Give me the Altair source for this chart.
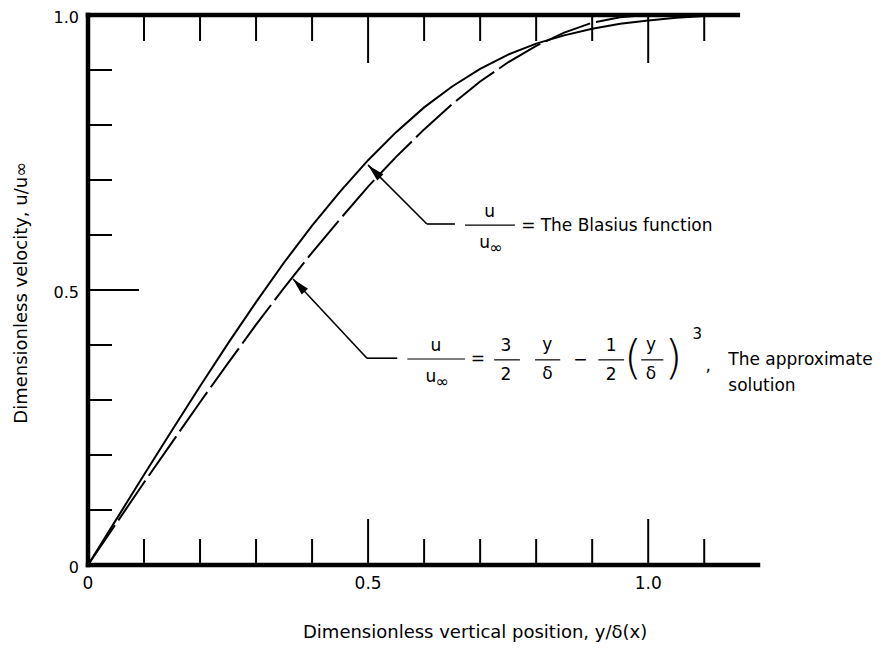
import math
import altair as alt
import pandas as pd

# ---------------- data ----------------
blasius_x = [0, 0.05, 0.1, 0.15, 0.2, 0.25, 0.3, 0.35, 0.4, 0.45, 0.5, 0.55,
             0.6, 0.65, 0.7, 0.75, 0.8, 0.85, 0.9, 0.95, 1.0, 1.05, 1.1, 1.16]
blasius_u = [0, 0.082, 0.164, 0.245, 0.325, 0.403, 0.478, 0.550, 0.617, 0.679,
             0.736, 0.787, 0.832, 0.870, 0.902, 0.928, 0.948, 0.963, 0.975,
             0.984, 0.990, 0.995, 0.998, 1.0]

approx_x = [0, 0.05, 0.1, 0.15, 0.2, 0.25, 0.3, 0.35, 0.4, 0.45, 0.5, 0.55,
            0.6, 0.65, 0.7, 0.75, 0.8, 0.85, 0.9, 0.95, 1.0]
approx_u = [0, 0.075, 0.150, 0.223, 0.296, 0.367, 0.437, 0.504, 0.568, 0.629,
            0.688, 0.742, 0.792, 0.838, 0.879, 0.914, 0.944, 0.968, 0.986,
            0.996, 1.0]

x_tick_vals = [0.1, 0.2, 0.3, 0.4, 0.5, 0.6, 0.7, 0.8, 0.9, 1.0, 1.1]
x_long_ticks = [0.5, 1.0]
y_tick_vals = [0.1, 0.2, 0.3, 0.4, 0.5, 0.6, 0.7, 0.8, 0.9]
y_long_ticks = [0.5]

x_label_vals = [0, 0.5, 1.0]
x_label_text = ["0", "0.5", "1.0"]
y_label_vals = [0, 0.5, 1.0]
y_label_text = ["0", "0.5", "1.0"]

x_title = "Dimensionless vertical position, y/\u03b4(x)"
y_title = "Dimensionless velocity, u/u\u221e"

# ---------------- layout ----------------
X_MAX = 1.196
X_TOP_END = 1.16
W, H = 670, 550
PXX = W / X_MAX   # pixels per x unit
PXY = H / 1.0     # pixels per y unit
FONT = "DejaVu Sans"

xs = alt.Scale(domain=[0, X_MAX], nice=False, zero=False)
ys = alt.Scale(domain=[0, 1], nice=False, zero=False)


def seg_layer(df, width, cap="butt"):
    return alt.Chart(df).mark_rule(color="black", strokeWidth=width, strokeCap=cap).encode(
        x=alt.X("x:Q", scale=xs, axis=None), x2="x2:Q",
        y=alt.Y("y:Q", scale=ys, axis=None), y2="y2:Q")


# frame (left, bottom, top)
frame = pd.DataFrame({"x": [0, 0, 0], "y": [0, 0, 1],
                      "x2": [0, X_MAX, X_TOP_END], "y2": [1, 0, 1]})

# ticks
rows = []
for v in x_tick_vals:
    lb = (46 if v in x_long_ticks else 26) / PXY
    lt = (48 if v in x_long_ticks else 26) / PXY
    rows.append({"x": v, "x2": v, "y": 0, "y2": lb})
    rows.append({"x": v, "x2": v, "y": 1, "y2": 1 - lt})
for v in y_tick_vals:
    ll = (51 if v in y_long_ticks else 24) / PXX
    rows.append({"x": 0, "x2": ll, "y": v, "y2": v})
ticks = pd.DataFrame(rows)

# curves
bl = pd.DataFrame({"x": blasius_x, "u": blasius_u})
ap = pd.DataFrame({"x": approx_x, "u": approx_u})
bl_line = alt.Chart(bl).mark_line(color="black", strokeWidth=2).encode(
    x=alt.X("x:Q", scale=xs, axis=None), y=alt.Y("u:Q", scale=ys, axis=None))
ap_line = alt.Chart(ap).mark_line(color="black", strokeWidth=2, strokeDash=[48, 6]).encode(
    x=alt.X("x:Q", scale=xs, axis=None), y=alt.Y("u:Q", scale=ys, axis=None))

# leader arrows: tip, elbow, end
arrows = [((0.500, 0.727), (0.605, 0.620), (0.655, 0.620)),
          ((0.366, 0.520), (0.498, 0.376), (0.552, 0.376))]
arows, heads = [], []
for tip, elb, end in arrows:
    arows.append({"x": tip[0], "y": tip[1], "x2": elb[0], "y2": elb[1]})
    arows.append({"x": elb[0], "y": elb[1], "x2": end[0], "y2": end[1]})
    dxp = (tip[0] - elb[0]) * PXX
    dyp = -(tip[1] - elb[1]) * PXY
    ang = math.degrees(math.atan2(dxp, -dyp)) % 360
    heads.append({"x": tip[0], "y": tip[1], "ang": ang})
arrow_lines = pd.DataFrame(arows)
head_df = pd.DataFrame(heads)
head_layer = alt.Chart(head_df).mark_point(
    shape="M0,0 L0.5,2 L-0.5,2 Z", size=300, filled=True, color="black", opacity=1
).encode(x=alt.X("x:Q", scale=xs, axis=None), y=alt.Y("y:Q", scale=ys, axis=None),
         angle=alt.Angle("ang:Q", scale=None))

# fraction bars
bars = pd.DataFrame({
    "x":  [0.673, 0.570, 0.725, 0.798, 0.911, 0.9875],
    "x2": [0.762, 0.673, 0.771, 0.843, 0.957, 1.027],
    "y":  [0.618, 0.3745, 0.373, 0.373, 0.373, 0.373]})
bars["y2"] = bars["y"]

# annotation texts
ann = pd.DataFrame([
    ("u", 0.717, 0.642, 17, "center"),
    ("u", 0.708, 0.585, 17, "center"),
    ("\u221e", 0.728, 0.576, 16, "center"),
    ("=", 0.786, 0.616, 17, "center"),
    ("The Blasius function", 0.808, 0.616, 17, "left"),
    ("u", 0.621, 0.398, 17, "center"),
    ("u", 0.612, 0.342, 17, "center"),
    ("\u221e", 0.632, 0.333, 16, "center"),
    ("=", 0.696, 0.375, 17, "center"),
    ("3", 0.746, 0.398, 17, "center"),
    ("2", 0.746, 0.345, 17, "center"),
    ("y", 0.820, 0.400, 17, "center"),
    ("\u03b4", 0.820, 0.347, 17, "center"),
    ("\u2212", 0.879, 0.373, 17, "center"),
    ("1", 0.934, 0.398, 17, "center"),
    ("2", 0.934, 0.345, 17, "center"),
    ("y", 1.005, 0.400, 17, "center"),
    ("\u03b4", 1.005, 0.347, 17, "center"),
    ("3", 1.0875, 0.420, 15, "center"),
    (",", 1.107, 0.362, 17, "center"),
    ("The approximate", 1.143, 0.373, 17, "left"),
    ("solution", 1.143, 0.325, 17, "left"),
    (x_title, 0.691, -0.124, 18, "center"),
], columns=["t", "x", "y", "fs", "al"])

parens = pd.DataFrame([("(", 0.973, 0.375, 46), (")", 1.045, 0.375, 46)],
                      columns=["t", "x", "y", "fs"])


def text_layer(df, align, font=FONT, **kw):
    return alt.Chart(df).mark_text(font=font, align=align, baseline="middle",
                                   color="black", **kw).encode(
        x=alt.X("x:Q", scale=xs, axis=None), y=alt.Y("y:Q", scale=ys, axis=None),
        text="t:N", size=alt.Size("fs:Q", scale=None))


txt_center = text_layer(ann[ann.al == "center"], "center")
txt_left = text_layer(ann[ann.al == "left"], "left")
paren_layer = text_layer(parens, "center", font="DejaVu Sans", fontWeight=200)

ytitle_df = pd.DataFrame({"t": [y_title], "x": [-0.118], "y": [0.495], "fs": [18]})
ytitle = text_layer(ytitle_df, "center", angle=270)

xl = pd.DataFrame({"t": x_label_text, "x": x_label_vals, "y": [0] * 3, "fs": [17] * 3})
yl = pd.DataFrame({"t": y_label_text, "x": [0] * 3, "y": y_label_vals, "fs": [16] * 3})
xlab = text_layer(xl, "center", dy=19)
ylab = text_layer(yl, "right", dx=-9, dy=3)

chart = alt.layer(
    seg_layer(ticks, 2),
    bl_line, ap_line,
    seg_layer(arrow_lines, 1.6),
    head_layer,
    seg_layer(bars, 1.2),
    seg_layer(frame, 4.5, cap="square"),
    txt_center, txt_left, paren_layer, ytitle, xlab, ylab,
).properties(
    width=W, height=H,
    padding={"left": 80, "top": 7, "right": 121, "bottom": 82},
    autosize=alt.AutoSizeParams(type="none"),
).configure_view(strokeWidth=0)

chart.save("out.html", embed_options={"renderer": "svg", "actions": False})
